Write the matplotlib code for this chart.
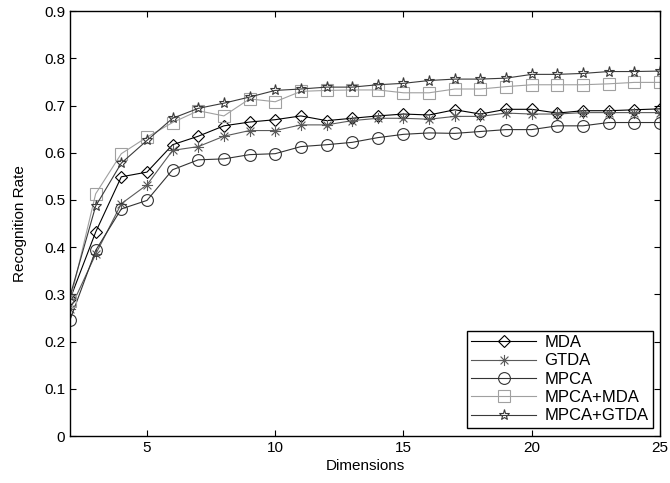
import matplotlib
matplotlib.use("Agg")
import matplotlib.pyplot as plt
from matplotlib.path import Path
import numpy as np

dims = list(range(2, 26))
mda = [0.290, 0.432, 0.549, 0.559, 0.617, 0.635, 0.657, 0.665, 0.670, 0.678, 0.668,
       0.673, 0.678, 0.682, 0.680, 0.691, 0.682, 0.692, 0.692, 0.684, 0.689, 0.689, 0.691, 0.693]
gtda = [0.268, 0.385, 0.492, 0.532, 0.605, 0.613, 0.635, 0.647, 0.647, 0.659, 0.659,
        0.668, 0.673, 0.673, 0.671, 0.677, 0.677, 0.684, 0.682, 0.682, 0.685, 0.685, 0.685, 0.685]
mpca = [0.246, 0.393, 0.481, 0.499, 0.564, 0.585, 0.587, 0.596, 0.598, 0.613, 0.617,
        0.622, 0.632, 0.639, 0.642, 0.641, 0.645, 0.649, 0.649, 0.657, 0.657, 0.664, 0.664, 0.664]
mpca_mda = [0.285, 0.513, 0.598, 0.633, 0.664, 0.689, 0.678, 0.714, 0.708, 0.730, 0.732,
            0.733, 0.733, 0.727, 0.727, 0.735, 0.735, 0.740, 0.744, 0.744, 0.744, 0.746, 0.749, 0.749]
mpca_gtda = [0.296, 0.487, 0.578, 0.626, 0.673, 0.694, 0.705, 0.718, 0.732, 0.735, 0.739,
             0.739, 0.744, 0.747, 0.753, 0.756, 0.756, 0.758, 0.766, 0.766, 0.768, 0.772, 0.772, 0.773]
labels = ["MDA", "GTDA", "MPCA", "MPCA+MDA", "MPCA+GTDA"]

plt.rcParams['font.family'] = ['Liberation Sans', 'DejaVu Sans']

# asterisk marker (MATLAB style '*': plus + cross)
c = np.cos(np.pi / 4)
verts = [(-1, 0), (1, 0), (0, -1), (0, 1), (-c, -c), (c, c), (-c, c), (c, -c)]
codes = [Path.MOVETO, Path.LINETO] * 4
ast = Path(verts, codes)

fig = plt.figure(figsize=(6.7, 4.83), dpi=100)
ax = fig.add_axes([0.1045, 0.0973, 0.8805, 0.8797])

series = [mda, gtda, mpca, mpca_mda, mpca_gtda]
styles = [
    dict(color='black', marker='D', ms=6.5),
    dict(color='#5a5a5a', marker=ast, ms=8),
    dict(color='#333333', marker='o', ms=8.5),
    dict(color='#a0a0a0', marker='s', ms=8),
    dict(color='#3a3a3a', marker='*', ms=8),
]
for vals, lab, st in zip(series, labels, styles):
    ax.plot(dims, vals, color=st['color'], marker=st['marker'], ms=st['ms'],
            mfc='none', mec=st['color'], mew=0.8, lw=0.8, label=lab)

ax.set_xlim(2, 25)
ax.set_ylim(0, 0.9)
ax.set_xticks([5, 10, 15, 20, 25])
ax.set_yticks(np.arange(0, 0.91, 0.1))
ax.set_yticklabels(['0', '0.1', '0.2', '0.3', '0.4', '0.5', '0.6', '0.7', '0.8', '0.9'])
ax.tick_params(direction='in', top=True, right=True, length=4, width=0.8, labelsize=11)
for s in ax.spines.values():
    s.set_linewidth(1.0)
ax.set_xlabel('Dimensions', fontsize=11, labelpad=3)
ax.set_ylabel('Recognition Rate', fontsize=11, labelpad=12)

leg = ax.legend(loc='lower right', bbox_to_anchor=(0.988, 0.02), fancybox=False,
                edgecolor='black', framealpha=1, fontsize=12, handlelength=3.9,
                borderpad=0.25, labelspacing=0.2, handletextpad=0.5, borderaxespad=0)
leg.get_frame().set_linewidth(1.0)

fig.savefig('out.png', dpi=100)
